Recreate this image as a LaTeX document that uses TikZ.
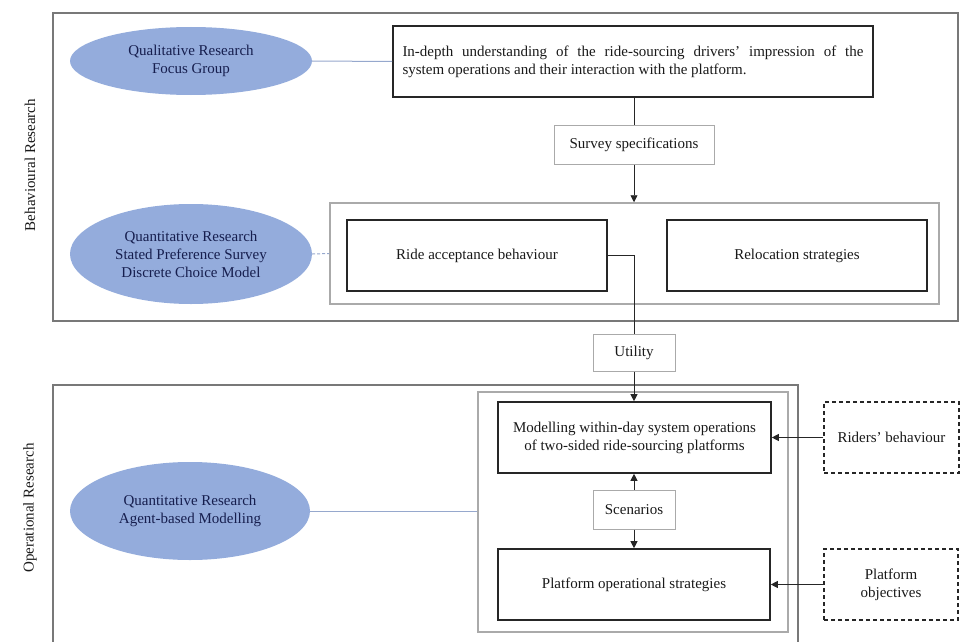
\documentclass[tikz,border=0pt]{standalone}
\usepackage{fontspec}
\setmainfont{Liberation Serif}
\usetikzlibrary{shapes.geometric,arrows.meta}
\definecolor{ellfill}{RGB}{148,172,220}
\definecolor{elltext}{RGB}{22,30,78}
\definecolor{conn}{RGB}{150,168,205}
\definecolor{frame}{RGB}{120,120,120}
\definecolor{lightframe}{RGB}{170,170,170}
\tikzset{
  every node/.style={font=\fontsize{15}{18}\selectfont, inner sep=0pt, align=center},
  ellnode/.style={ellipse, fill=ellfill, text=elltext, draw=none},
  thickbox/.style={rectangle, draw=black!85, line width=1.6pt, text=black!90},
  thinbox/.style={rectangle, draw=lightframe, line width=1pt, text=black!90},
  groupbox/.style={rectangle, draw=lightframe, line width=1.5pt},
  dashbox/.style={rectangle, draw=black!85, line width=1.4pt, dash pattern=on 4pt off 3pt, text=black!90},
  sidelabel/.style={rotate=90, text=black!90},
  arr/.style={-{Triangle[length=7pt,width=7pt]}, line width=0.8pt, black!85},
  plain/.style={line width=0.8pt, black!85},
  elllink/.style={line width=1pt, conn}
}
\begin{document}
\begin{tikzpicture}[x=1pt,y=-1pt]
\useasboundingbox (0,0) rectangle (969,642);
% outer frames
\node[rectangle, draw=frame, line width=1.2pt, minimum width=905pt, minimum height=308pt] (outertop) at (505.5,167) {};
\draw[frame, line width=1.2pt] (53,645) -- (53,385) -- (798,385) -- (798,645);
% side labels
\node[sidelabel] (lblbeh) at (30,165) {Behavioural Research};
\node[sidelabel] (lblop) at (30,508) {Operational Research};
% ellipses
\node[ellnode, minimum width=242pt, minimum height=68pt] (ell1) at (191,61) {Qualitative Research\\Focus Group};
\node[ellnode, minimum width=242pt, minimum height=100pt] (ell2) at (191,254) {Quantitative Research\\Stated Preference Survey\\Discrete Choice Model};
\node[ellnode, minimum width=240pt, minimum height=98pt] (ell3) at (190,511) {Quantitative Research\\Agent-based Modelling};
% top part
\node[thickbox, minimum width=480pt, minimum height=71pt, text width=461pt, align=justify] (indepth) at (633,61.5) {In-depth understanding of the ride-sourcing drivers' impression of the\linebreak system operations and their interaction with the platform.};
\node[thinbox, minimum width=160pt, minimum height=39pt] (survey) at (634,144.5) {Survey specifications};
\node[groupbox, minimum width=609pt, minimum height=101pt] (group1) at (634.5,253.5) {};
\node[thickbox, minimum width=260pt, minimum height=71pt] (ride) at (477,255.5) {Ride acceptance behaviour};
\node[thickbox, minimum width=260pt, minimum height=71pt] (reloc) at (797,255.5) {Relocation strategies};
\node[thinbox, minimum width=82pt, minimum height=37pt] (utility) at (634,352.5) {Utility};
% bottom part
\node[groupbox, minimum width=310pt, minimum height=240pt] (group2) at (633,512) {};
\node[thickbox, minimum width=273pt, minimum height=71pt] (model) at (634.5,437.5) {Modelling within-day system operations\\of two-sided ride-sourcing platforms};
\node[thinbox, minimum width=82pt, minimum height=39pt] (scen) at (634,509.5) {Scenarios};
\node[thickbox, minimum width=272pt, minimum height=71pt] (plat) at (634,584.5) {Platform operational strategies};
\node[dashbox, minimum width=135pt, minimum height=71pt] (riders) at (891.5,437.5) {Riders' behaviour};
\node[dashbox, minimum width=134pt, minimum height=71pt] (pobj) at (891,584.5) {Platform\\objectives};
% connectors
\draw[elllink] (ell1.east) -- (indepth.west);
\draw[elllink, dash pattern=on 3pt off 2pt] (ell2.east) -- (group1.west);
\draw[elllink] (ell3.east) -- (ell3.east -| group2.west);
\draw[plain] (indepth.south -| survey.north) -- (survey.north);
\draw[arr] (survey.south) -- (survey.south |- group1.north);
\draw[plain] (ride.east) -| (utility.north);
\draw[arr] (utility.south) -- (utility.south |- model.north);
\draw[arr] (scen.north) -- (scen.north |- model.south);
\draw[arr] (scen.south) -- (scen.south |- plat.north);
\draw[arr] (riders.west) -- (riders.west -| model.east);
\draw[arr] (pobj.west) -- (pobj.west -| plat.east);
\end{tikzpicture}
\end{document}
